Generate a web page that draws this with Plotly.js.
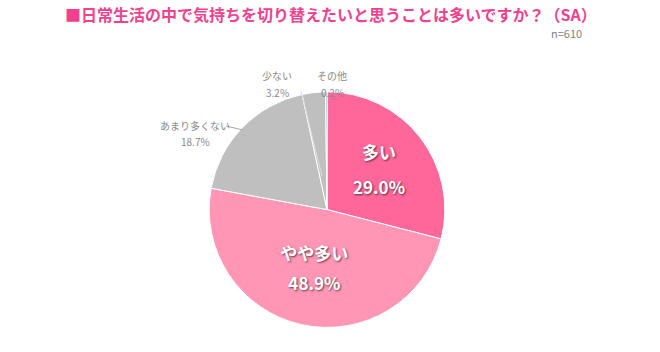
<!DOCTYPE html>
<html><head><meta charset="utf-8">
<script src="https://cdn.plot.ly/plotly-3.0.1.min.js"></script>
<style>body{margin:0;background:#fff}#c{width:660px;height:352px}</style>
</head><body><div id="c"></div>
<script>
const labels = ['多い','やや多い','あまり多くない','少ない','その他'];
const values = [29.0, 48.9, 18.7, 3.2, 0.2];
const colors = ['#FF6699','#FF96B6','#BFBFBF','#BFBFBF','#4BACC6'];
const titleText = '■日常生活の中で気持ちを切り替えたいと思うことは多いですか？（SA）';
const nText = 'n=610';

const FONT = '"Noto Sans CJK JP", "Noto Sans", sans-serif';
const fmt = v => v.toFixed(1) + '%';
const sp = s => '<span style="font-size:17px"><b>' + s + '</b></span>';

const trace = {
  type: 'pie',
  labels: labels,
  values: values,
  sort: false,
  direction: 'clockwise',
  rotation: 0,
  marker: {colors: colors, line: {color: '#ffffff', width: 1}},
  text: values.map(fmt),
  texttemplate: values.map((v, i) => i < 2 ? sp(labels[i]) + '<br>' + sp(fmt(v)) : ''),
  textinfo: 'text',
  textposition: values.map((v, i) => i < 2 ? 'inside' : 'none'),
  insidetextorientation: 'horizontal',
  textfont: {family: FONT, size: [27, 23, 10, 10, 10], color: '#ffffff', shadow: '1px 1px 2px rgba(0,0,0,0.6)'},
  domain: {x: [0.317, 0.674], y: [0.068, 0.741]},
  hoverinfo: 'none',
  showlegend: false
};

const outs = [
  {i: 2, x: 195, y: 125, y2: 141},
  {i: 3, x: 277, y: 75, y2: 93},
  {i: 4, x: 332, y: 75, y2: 93}
];
const annotations = [
  {text: '<b>' + titleText + '</b>', x: 331/660, y: 1 - 14/352, xref: 'paper', yref: 'paper',
   xanchor: 'center', yanchor: 'middle', showarrow: false,
   font: {family: FONT, size: 16, color: '#F23F8E'}},
  {text: nText, x: 566/660, y: 1 - 33/352, xref: 'paper', yref: 'paper',
   xanchor: 'center', yanchor: 'middle', showarrow: false,
   font: {family: FONT, size: 11, color: '#7f7f7f'}}
];
outs.forEach(o => {
  annotations.push({text: labels[o.i], x: o.x/660, y: 1 - o.y/352, xref: 'paper', yref: 'paper',
    xanchor: 'center', yanchor: 'middle', showarrow: false,
    font: {family: FONT, size: 10, color: '#8a8a8a'}});
  annotations.push({text: fmt(values[o.i]), x: o.x/660, y: 1 - o.y2/352, xref: 'paper', yref: 'paper',
    xanchor: 'center', yanchor: 'middle', showarrow: false,
    font: {family: FONT, size: 10, color: '#8a8a8a'}});
});

const layout = {
  width: 660, height: 352,
  margin: {l: 0, r: 0, t: 0, b: 0},
  paper_bgcolor: '#ffffff',
  annotations: annotations,
  shapes: [
    {type: 'line', xref: 'paper', yref: 'paper', x0: 226/660, y0: 1 - 126/352, x1: 243/660, y1: 1 - 130/352,
     line: {color: '#a6a6a6', width: 1}},
    {type: 'line', xref: 'paper', yref: 'paper', x0: 301/660, y0: 1 - 91/352, x1: 322/660, y1: 1 - 176/352,
     line: {color: '#dddddd', width: 1}}
  ]
};
Plotly.newPlot('c', [trace], layout, {staticPlot: true});
</script></body></html>
